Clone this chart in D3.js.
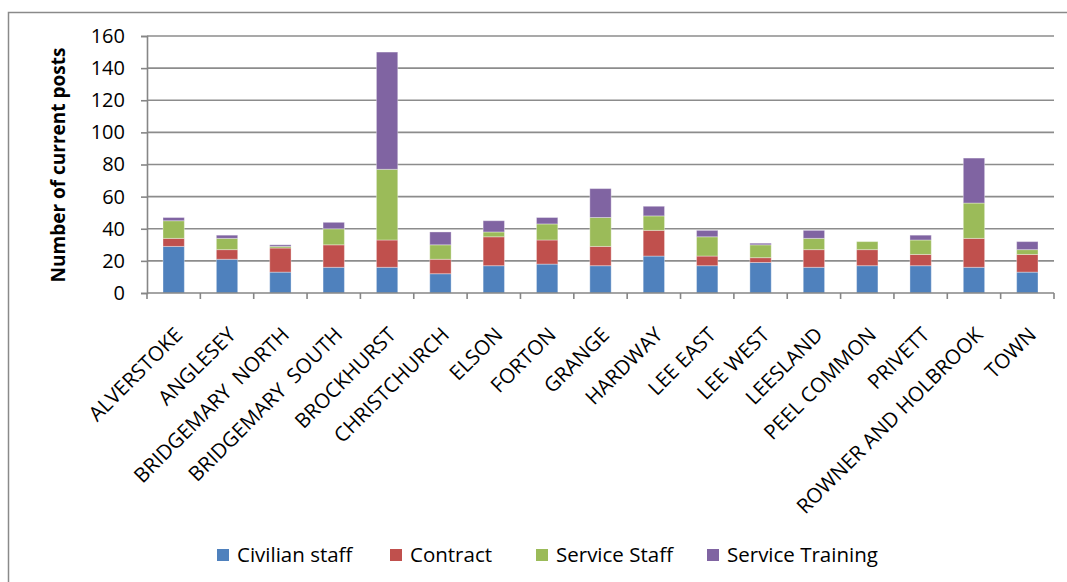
<!DOCTYPE html>
<html>
<head>
<meta charset="utf-8">
<script src="https://cdn.jsdelivr.net/npm/d3@7/dist/d3.min.js"></script>
<style>
  html, body { margin: 0; padding: 0; background: #fff; }
  svg { display: block; }
  text { font-family: "Open Sans", "DejaVu Sans", sans-serif; fill: #000; }
</style>
</head>
<body>
<svg id="chart" width="1067" height="582"></svg>
<script>
// Wards along the x axis
const wards = ["ALVERSTOKE", "ANGLESEY", "BRIDGEMARY  NORTH", "BRIDGEMARY  SOUTH", "BROCKHURST",
  "CHRISTCHURCH", "ELSON", "FORTON", "GRANGE", "HARDWAY", "LEE EAST", "LEE WEST", "LEESLAND",
  "PEEL COMMON", "PRIVETT", "ROWNER AND HOLBROOK", "TOWN"];

// Posts per ward, one array per series (stacked bottom to top)
const civilianStaff   = [29, 21, 13, 16, 16, 12, 17, 18, 17, 23, 17, 19, 16, 17, 17, 16, 13];
const contract        = [ 5,  6, 15, 14, 17,  9, 18, 15, 12, 16,  6,  3, 11, 10,  7, 18, 11];
const serviceStaff    = [11,  7,  1, 10, 44,  9,  3, 10, 18,  9, 12,  8,  7,  5,  9, 22,  3];
const serviceTraining = [ 2,  2,  1,  4, 73,  8,  7,  4, 18,  6,  4,  1,  5,  0,  3, 28,  5];

const seriesNames  = ["Civilian staff", "Contract", "Service Staff", "Service Training"];
const seriesColors = ["#4F81BD", "#C0504D", "#9BBB59", "#8064A2"];
const yTicks = [0, 20, 40, 60, 80, 100, 120, 140, 160];

const rows = wards.map((w, i) => ({
  ward: w,
  "Civilian staff": civilianStaff[i],
  "Contract": contract[i],
  "Service Staff": serviceStaff[i],
  "Service Training": serviceTraining[i]
}));

const svg = d3.select("#chart");
const plot = { left: 147, right: 1054, top: 36, bottom: 293 };

// Outer chart frame
svg.append("rect")
  .attr("x", 8.5).attr("y", 12.5)
  .attr("width", 1100).attr("height", 620)
  .attr("fill", "none").attr("stroke", "#8a8a8a").attr("stroke-width", 1.5);

const x = d3.scaleBand().domain(wards).range([plot.left, plot.right]).paddingInner(0.6).paddingOuter(0.3);
const xEdge = d3.scaleBand().domain(wards).range([plot.left, plot.right]);
const y = d3.scaleLinear().domain([0, 160]).range([plot.bottom, plot.top]);

// Horizontal gridlines
svg.append("g").selectAll("line").data(yTicks.slice(1)).join("line")
  .attr("x1", plot.left).attr("x2", plot.right)
  .attr("y1", d => y(d)).attr("y2", d => y(d))
  .attr("stroke", "#8c8c8c").attr("stroke-width", 1.6);

// Stacked bars
const stack = d3.stack().keys(seriesNames)(rows);
svg.append("g").selectAll("g").data(stack).join("g")
  .attr("fill", (d, i) => seriesColors[i])
  .selectAll("rect").data(d => d).join("rect")
  .attr("x", d => x(d.data.ward))
  .attr("width", x.bandwidth())
  .attr("y", d => y(d[1]))
  .attr("height", d => y(d[0]) - y(d[1]))
  .attr("stroke", "rgba(255,255,255,0.35)").attr("stroke-width", 1);

// Y axis
const yAxis = svg.append("g")
  .attr("transform", `translate(${plot.left},0)`)
  .call(d3.axisLeft(y).tickValues(yTicks).tickSize(6).tickPadding(16));
yAxis.select(".domain").attr("stroke", "#868686").attr("stroke-width", 1.6);
yAxis.selectAll(".tick line").attr("stroke", "#868686").attr("stroke-width", 1.6);
yAxis.selectAll(".tick text").style("font-size", "20px").style("font-family", "'Open Sans', sans-serif").attr("fill", "#000");

// X axis line and band ticks
svg.append("line")
  .attr("x1", plot.left).attr("x2", plot.right)
  .attr("y1", plot.bottom).attr("y2", plot.bottom)
  .attr("stroke", "#868686").attr("stroke-width", 1.6);
const edges = wards.map(w => xEdge(w)).concat([plot.right]);
svg.append("g").selectAll("line").data(edges).join("line")
  .attr("x1", d => d).attr("x2", d => d)
  .attr("y1", plot.bottom).attr("y2", plot.bottom + 6)
  .attr("stroke", "#868686").attr("stroke-width", 1.6);

// Rotated ward labels
svg.append("g").selectAll("text").data(wards).join("text")
  .attr("transform", d => `translate(${xEdge(d) + xEdge.bandwidth() / 2 + 5},331) rotate(-45)`)
  .attr("text-anchor", "end")
  .attr("dy", "0.35em")
  .style("font-size", "20.5px")
  .style("white-space", "pre")
  .text(d => d);

// Y axis title
svg.append("text")
  .attr("transform", "translate(58,165) rotate(-90)")
  .attr("text-anchor", "middle")
  .attr("dy", "0.35em")
  .style("font-size", "19px")
  .style("font-weight", "bold")
  .text("Number of current posts");

// Legend
const legendTextX = [237, 410, 556, 727];
const legend = svg.append("g").selectAll("g").data(seriesNames).join("g")
  .attr("transform", (d, i) => `translate(${legendTextX[i]},555)`);
legend.append("rect")
  .attr("x", -20).attr("y", -6).attr("width", 12).attr("height", 12)
  .attr("fill", (d, i) => seriesColors[i]);
legend.append("text")
  .attr("dy", "0.35em")
  .style("font-size", "20.5px")
  .text(d => d);
</script>
</body>
</html>
